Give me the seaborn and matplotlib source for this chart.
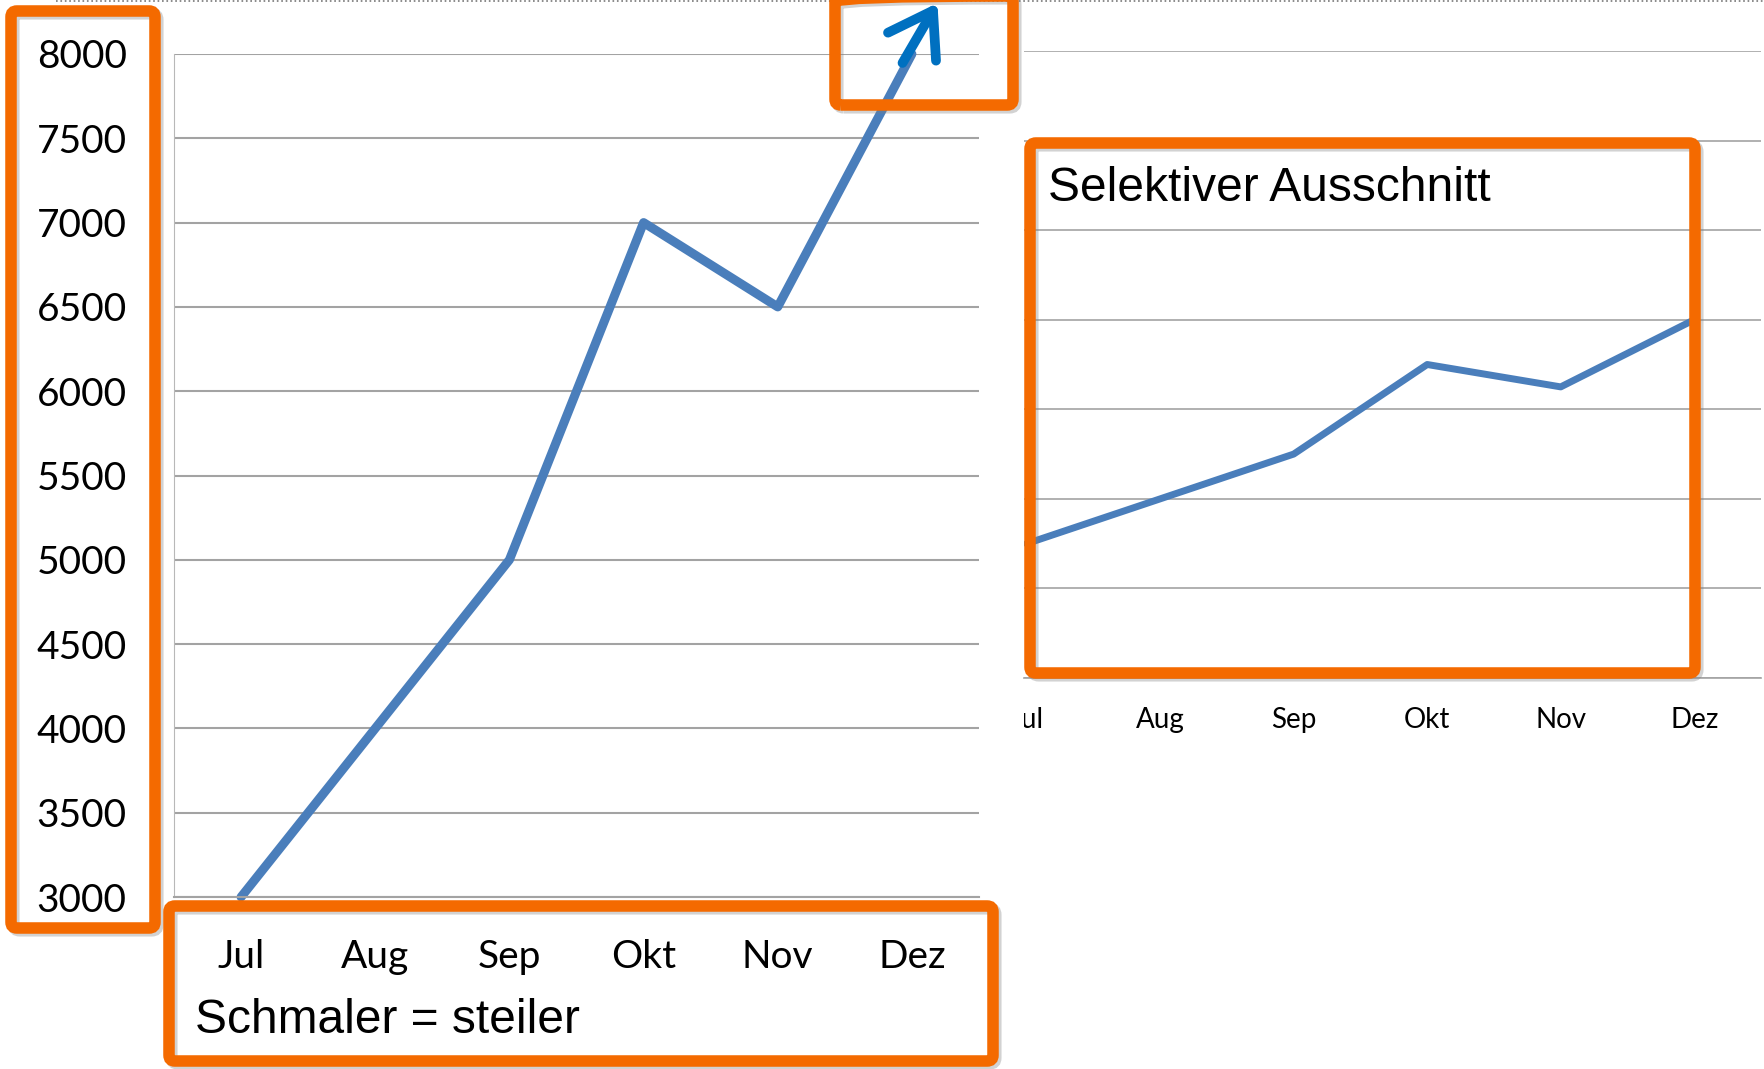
import matplotlib
matplotlib.use('Agg')
import matplotlib.pyplot as plt
import matplotlib.patheffects as pe
import seaborn as sns
import pandas as pd
from matplotlib.patches import FancyBboxPatch, Rectangle
from matplotlib.lines import Line2D
from matplotlib.transforms import IdentityTransform

# data
months = ['Jul', 'Aug', 'Sep', 'Okt', 'Nov', 'Dez']
umsatz = [3000, 4000, 5000, 7000, 6500, 8000]
left_yticks = [3000, 3500, 4000, 4500, 5000, 5500, 6000, 6500, 7000, 7500, 8000]
right_grid = [0, 2000, 4000, 6000, 8000, 10000, 12000, 14000]

sns.set_style('white')
plt.rcParams['font.family'] = ['Lato', 'DejaVu Sans']
plt.rcParams['text.color'] = 'black'
plt.rcParams['xtick.color'] = 'black'
plt.rcParams['ytick.color'] = 'black'

W, H = 1764, 1069
fig = plt.figure(figsize=(W / 100, H / 100), dpi=100)
blue = '#4A7EBB'
orange = '#F46A00'
grid_c = '#a3a3a3'

def px_axes(x0, y0, x1, y1):
    # pixel box, y measured from top
    return fig.add_axes([x0 / W, 1 - y1 / H, (x1 - x0) / W, (y1 - y0) / H])

df = pd.DataFrame({'Monat': months, 'Umsatz': umsatz})

# left chart (narrow = steep)
ax1 = px_axes(174, 54, 979, 897)
sns.lineplot(data=df, x='Monat', y='Umsatz', ax=ax1, color=blue, lw=6.5, sort=False)
ax1.lines[0].set_clip_on(False)
ax1.set_xlim(-0.5, 5.5)
ax1.set_ylim(3000, 8000)
ax1.set_yticks(left_yticks)
ax1.set_xticks(range(len(months)), months)
ax1.set_xticks([i - 0.5 for i in range(len(months) + 1)], minor=True)
ax1.tick_params(axis='x', which='major', length=0, pad=30, labelsize=28, labelcolor='black')
ax1.tick_params(axis='x', which='minor', length=6.5, width=1, color=grid_c)
ax1.tick_params(axis='y', length=0, pad=34, labelsize=28, labelcolor='black')
ax1.grid(axis='y', color=grid_c, lw=1.5)
ax1.set_axisbelow(True)
ax1.set_xlabel('')
ax1.set_ylabel('')
for s in ['top', 'right']:
    ax1.spines[s].set_visible(False)
ax1.spines['left'].set_color('#b8b8b8')
ax1.spines['left'].set_linewidth(0.8)
ax1.spines['bottom'].set_color(grid_c)
ax1.spines['bottom'].set_linewidth(1.5)

# arrow going off the top
ax1.annotate('', xy=(5.19, 8302), xytext=(4.93, 7947), annotation_clip=False,
             arrowprops=dict(arrowstyle='->,head_length=3,head_width=2', mutation_scale=10,
                             lw=7, color='#0070C0', shrinkA=0, shrinkB=0,
                             capstyle='round', joinstyle='round'))

# right chart (clipped on the left)
ax2 = px_axes(1024, 51, 1761, 678)
sns.lineplot(data=df, x='Monat', y='Umsatz', ax=ax2, color=blue, lw=5, sort=False)
ax2.set_xlim(-0.02, 5.5)
ax2.set_ylim(0, 14000)
ax2.set_yticks(right_grid)
ax2.set_yticklabels([])
ax2.set_xticks(range(len(months)), months)
ax2.set_xticks([i + 0.5 for i in range(len(months))], minor=True)
ax2.tick_params(axis='x', which='major', length=0, pad=21, labelsize=20, labelcolor='black')
ax2.tick_params(axis='x', which='minor', length=6.5, width=1, color=grid_c)
ax2.tick_params(axis='y', length=0)
ax2.grid(axis='y', color=grid_c, lw=1.2)
ax2.set_axisbelow(True)
ax2.set_xlabel('')
ax2.set_ylabel('')
for s in ['top', 'right', 'left']:
    ax2.spines[s].set_visible(False)
ax2.spines['bottom'].set_color(grid_c)
ax2.spines['bottom'].set_linewidth(1.2)

# hide the left part of the first label of the cut chart
fig.add_artist(Rectangle((985, 1069 - 760), 39, 80, transform=IdentityTransform(),
                         facecolor='white', edgecolor='none', zorder=2))

# dotted line along the top edge
fig.add_artist(Line2D([56 / W, 1], [0.999, 0.999], transform=fig.transFigure,
                      color='#777777', lw=1.2, ls=':'))

# orange highlight frames (pixel coords, y from top)
frames = [(11, 11, 155, 928), (169, 906, 993, 1061), (835, -4, 1013, 105), (1030, 143, 1695, 673)]
for x0, y0, x1, y1 in frames:
    fig.add_artist(FancyBboxPatch((x0, H - y1), x1 - x0, y1 - y0,
                                  boxstyle='round,pad=0,rounding_size=6',
                                  transform=IdentityTransform(), facecolor='none',
                                  edgecolor=orange, lw=8.3, zorder=5,
                                  path_effects=[pe.SimpleLineShadow(offset=(2, -2), shadow_color='gray', alpha=0.35),
                                                pe.Normal()]))

fig.text(195 / W, 1 - 1033 / H, 'Schmaler = steiler', family=['Liberation Sans', 'DejaVu Sans'],
         fontsize=34.5, va='baseline', ha='left', zorder=6, color='black')
fig.text(1048 / W, 1 - 201 / H, 'Selektiver Ausschnitt', family=['Liberation Sans', 'DejaVu Sans'],
         fontsize=34.5, va='baseline', ha='left', zorder=6, color='black')

fig.savefig('out.png', dpi=100)
